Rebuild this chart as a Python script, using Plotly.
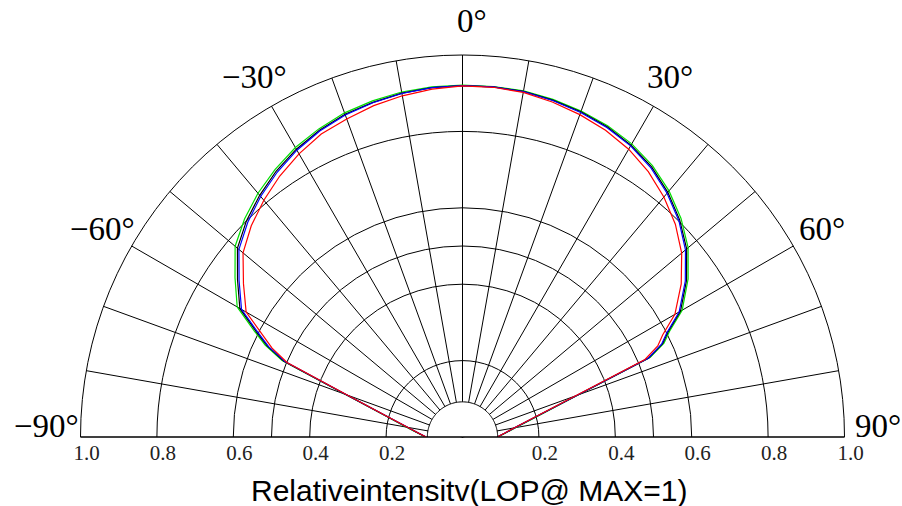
import math
import plotly.graph_objects as go

# Emission angle (deg) and relative intensity for the four measured curves
angles = [-90, -85, -80, -75, -70, -67, -65, -63, -60, -55, -50, -45, -40, -35, -30, -25,
          -20, -15, -10, -5, 0, 5, 10, 15, 20, 25, 30, 35, 40, 45, 50, 55, 60, 63, 65,
          67, 70, 75, 80, 85, 90]

green = [0.097, 0.118, 0.149, 0.204, 0.327, 0.513, 0.570, 0.612, 0.681, 0.727, 0.777,
         0.807, 0.833, 0.855, 0.875, 0.890, 0.903, 0.911, 0.917, 0.920, 0.921, 0.921,
         0.920, 0.915, 0.908, 0.899, 0.886, 0.867, 0.841, 0.809, 0.771, 0.721, 0.664,
         0.608, 0.582, 0.534, 0.323, 0.196, 0.141, 0.112, 0.092]

black = [0.096, 0.116, 0.147, 0.202, 0.324, 0.508, 0.564, 0.605, 0.673, 0.719, 0.769,
         0.800, 0.826, 0.850, 0.870, 0.886, 0.899, 0.907, 0.914, 0.918, 0.920, 0.920,
         0.919, 0.913, 0.906, 0.896, 0.882, 0.863, 0.836, 0.804, 0.766, 0.716, 0.659,
         0.603, 0.578, 0.530, 0.320, 0.194, 0.139, 0.111, 0.091]

blue = [0.095, 0.115, 0.146, 0.200, 0.322, 0.505, 0.560, 0.600, 0.668, 0.714, 0.764,
        0.795, 0.822, 0.846, 0.867, 0.884, 0.897, 0.906, 0.913, 0.918, 0.920, 0.920,
        0.918, 0.912, 0.904, 0.894, 0.880, 0.860, 0.833, 0.801, 0.762, 0.712, 0.655,
        0.600, 0.575, 0.528, 0.318, 0.192, 0.138, 0.110, 0.091]

red = [0.095, 0.115, 0.146, 0.200, 0.320, 0.499, 0.550, 0.587, 0.654, 0.700, 0.750,
       0.782, 0.809, 0.834, 0.856, 0.875, 0.886, 0.898, 0.907, 0.914, 0.919, 0.919,
       0.916, 0.908, 0.898, 0.886, 0.870, 0.848, 0.820, 0.788, 0.749, 0.699, 0.642,
       0.588, 0.564, 0.519, 0.314, 0.190, 0.137, 0.110, 0.091]

series = [("green", green, "#00e000"), ("black", black, "#000000"),
          ("blue", blue, "#0000ff"), ("red", red, "#ff0000")]

# Grid definition
ring_values = [0.2, 0.4, 0.5, 0.6, 0.8, 1.0]
spoke_angles = list(range(-90, 91, 10))
label_angles = [-90, -60, -30, 0, 30, 60, 90]
label_texts = ["−90°", "−60°", "−30°", "0°", "30°", "60°", "90°"]
radial_tick_values = [-1.0, -0.8, -0.6, -0.4, -0.2, 0.2, 0.4, 0.6, 0.8, 1.0]
radial_tick_text = ["1.0", "0.8", "0.6", "0.4", "0.2", "0.2", "0.4", "0.6", "0.8", "1.0"]
hole_radius = 0.092
axis_title = "Relativeintensitv(LOP@ MAX=1)"

W, H = 902, 506
cx, cy, R = 462.5, 437.0, 382.0
dom_x = [(cx - R) / W, (cx + R) / W]
dom_y = [(H - cy) / H, (H - cy + R) / H]

fig = go.Figure()

for name, vals, color in series:
    fig.add_trace(go.Scatterpolar(
        r=vals, theta=angles, mode="lines", name=name,
        line=dict(color=color, width=1.2), showlegend=False, hoverinfo="skip"))

# central half-disc that masks the spokes
hole_theta = list(range(-90, 91, 2)) + [-90]
fig.add_trace(go.Scatterpolar(
    r=[hole_radius] * len(hole_theta), theta=hole_theta, mode="lines",
    fill="toself", fillcolor="white", line=dict(color="black", width=1),
    showlegend=False, hoverinfo="skip"))

# empty cartesian trace that carries the radial scale under the baseline
fig.add_trace(go.Scatter(x=[], y=[], xaxis="x", yaxis="y", showlegend=False))

# angle labels set just outside the outer ring
annotations = []
label_r = 1.088 * R
for ang, txt in zip(label_angles, label_texts):
    a = math.radians(ang)
    px = cx + label_r * math.sin(a)
    py = cy - label_r * math.cos(a)
    if abs(ang) == 90:
        py -= 11
    if ang == 0:
        px += 9
    annotations.append(dict(
        text=txt, xref="paper", yref="paper", x=px / W, y=(H - py) / H,
        xanchor="center", yanchor="middle", showarrow=False,
        font=dict(family="Liberation Serif", size=33, color="black")))

annotations.append(dict(
    text=axis_title, xref="paper", yref="paper",
    x=468.5 / W, y=(H - 490) / H, xanchor="center", yanchor="middle",
    showarrow=False, font=dict(family="Liberation Sans", size=30, color="black")))

# radial scale sits a few pixels below the baseline
scale_bottom = dom_y[0] + 4.0 / H

fig.update_layout(
    width=W, height=H,
    margin=dict(l=0, r=0, t=0, b=0, autoexpand=False),
    paper_bgcolor="white", plot_bgcolor="rgba(0,0,0,0)",
    polar=dict(
        domain=dict(x=dom_x, y=dom_y),
        sector=[0, 180],
        bgcolor="white",
        angularaxis=dict(
            rotation=90, direction="clockwise", thetaunit="degrees",
            tickmode="array", tickvals=spoke_angles, showticklabels=False,
            ticks="", showline=True, linecolor="black", linewidth=1,
            showgrid=True, gridcolor="black", gridwidth=1),
        radialaxis=dict(
            range=[0, 1], tickmode="array", tickvals=ring_values,
            showticklabels=False, ticks="", showline=False,
            showgrid=True, gridcolor="black", gridwidth=1, angle=180),
    ),
    xaxis=dict(
        domain=dom_x, range=[-1, 1], anchor="y", automargin=False,
        tickmode="array", tickvals=radial_tick_values, ticktext=radial_tick_text,
        ticks="outside", ticklen=1, tickcolor="rgba(0,0,0,0)",
        showgrid=False, zeroline=False, showline=False, ticklabelshift=6,
        tickfont=dict(family="Liberation Serif", size=21, color="#222")),
    yaxis=dict(domain=[scale_bottom, scale_bottom + 0.05], visible=False, range=[0, 1],
               automargin=False),
    annotations=annotations,
)

fig.write_html("out.html")
